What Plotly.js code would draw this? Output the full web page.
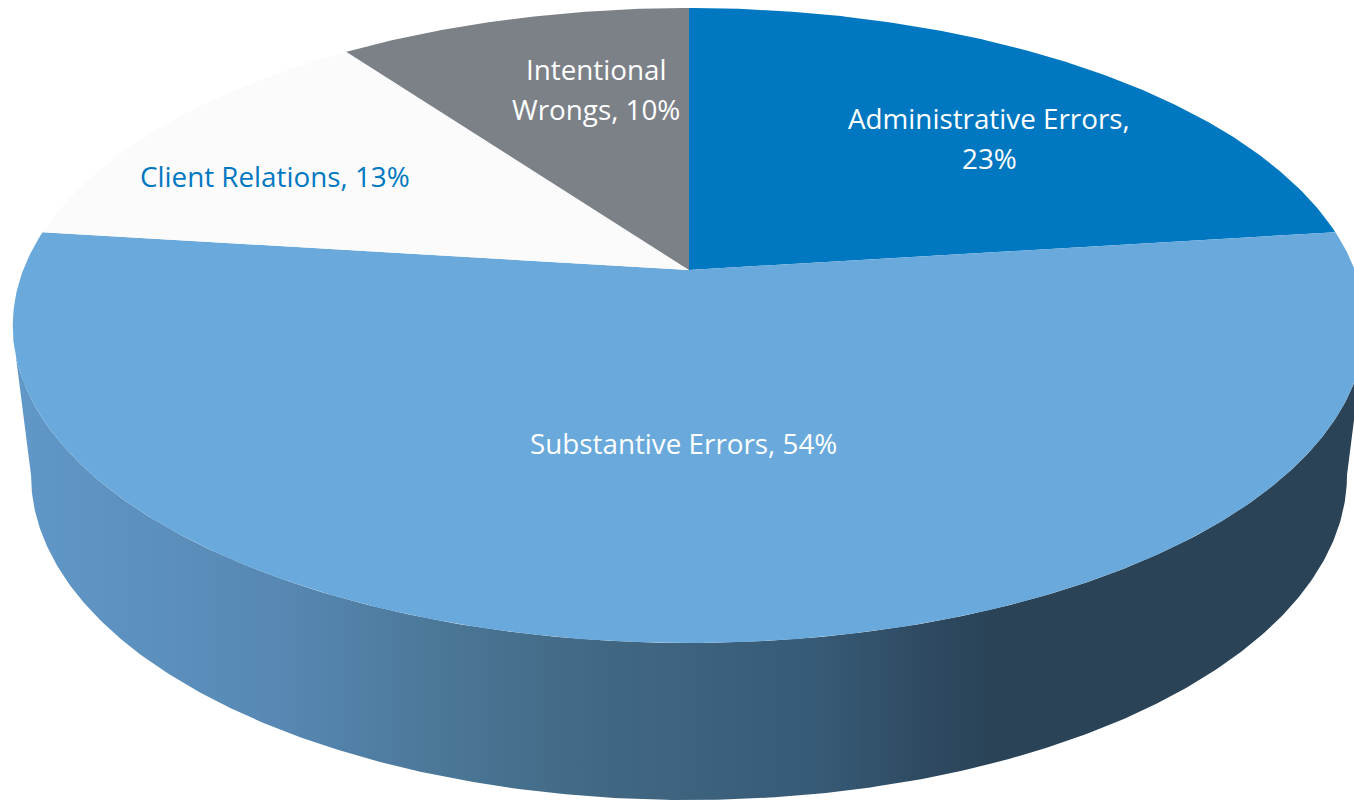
<!DOCTYPE html>
<html>
<head>
<meta charset="utf-8">
<script src="https://cdn.plot.ly/plotly-3.0.1.min.js"></script>
<style>html,body{margin:0;padding:0;background:#fff}#chart{width:1354px;height:801px}</style>
</head>
<body>
<div id="chart"></div>
<script>
// Malpractice claim causes, share of claims in percent, clockwise from twelve o'clock.
const categories = ["Administrative Errors", "Substantive Errors", "Client Relations", "Intentional Wrongs"];
const shares = [23, 54, 13, 10];

const sliceColors = ["#0078c1", "#69a9db", "#fbfbfb", "#7c8188"];
const labelColors = ["#ffffff", "#ffffff", "#0078c1", "#ffffff"];
const labelBreaks = ["Errors, ", null, null, "Intentional "];
const labelAnchors = [[989, 137.5], [683, 443], [275, 176], [596, 89]];
const labelLineGap = 40;

// Top face: a disc seen in perspective, hub at (hubX, hubY).
const hubX = 689, hubY = 270, spanX = 665.8, spanY = 307.8, tilt = 0.1748;
// Bottom rim of the drum, and where the drum's silhouette leaves the top face.
const baseY = 475, baseRx = 658, baseRy = 325, silhouetteTurn = 0.282;

function rimPoint(turn) {
  const a = turn * 2 * Math.PI, u = Math.sin(a), v = -Math.cos(a), d = 1 - tilt * v;
  return [hubX + spanX * u / d, hubY + spanY * v / d];
}

function sliceTrace(i, from, to) {
  const xs = [hubX], ys = [hubY], n = Math.max(8, Math.ceil((to - from) * 720));
  for (let k = 0; k <= n; k++) {
    const p = rimPoint(from + (to - from) * k / n);
    xs.push(p[0]); ys.push(p[1]);
  }
  xs.push(hubX); ys.push(hubY);
  return {
    type: "scatter", mode: "lines", x: xs, y: ys, fill: "toself", fillcolor: sliceColors[i],
    line: {width: 0, color: sliceColors[i]}, name: categories[i],
    text: categories[i] + ": " + shares[i] + "%", hoverinfo: "text", showlegend: false
  };
}

function sideTrace() {
  const xs = [], ys = [], steps = 360;
  // Along the upper rim's front, right to left, then along the lower rim from left to right.
  for (let k = 0; k <= steps; k++) {
    const p = rimPoint(silhouetteTurn + (1 - 2 * silhouetteTurn) * k / steps);
    xs.push(p[0]); ys.push(p[1]);
  }
  for (let k = 0; k <= steps; k++) {
    const a = Math.PI + Math.PI * k / steps;
    xs.push(hubX + baseRx * Math.cos(a));
    ys.push(baseY - baseRy * Math.sin(a));
  }
  return {
    type: "scatter", mode: "lines", x: xs, y: ys, fill: "toself",
    fillgradient: {
      type: "horizontal", start: 13, stop: 1354,
      colorscale: [[0, "#6198c8"], [0.2, "#5788b3"], [0.33, "#4a7595"], [0.44, "#416883"],
                   [0.6, "#375a76"], [0.68, "#2e4a61"], [0.73, "#2a4357"], [1, "#2a4357"]]
    },
    line: {width: 0}, hoverinfo: "skip", showlegend: false
  };
}

const total = shares.reduce((s, v) => s + v, 0);
const traces = [sideTrace()];
let run = 0;
shares.forEach((v, i) => {
  traces.push(sliceTrace(i, run / total, (run + v) / total));
  run += v;
});

// Each label line gets its own annotation so the leading can be wider than Plotly's default.
const annotations = [];
categories.forEach((c, i) => {
  let text = c + ", " + shares[i] + "%";
  if (labelBreaks[i]) text = text.replace(labelBreaks[i], labelBreaks[i].trim() + "\n");
  const lines = text.split("\n");
  lines.forEach((line, j) => {
    annotations.push({
      x: labelAnchors[i][0],
      y: labelAnchors[i][1] + (j - (lines.length - 1) / 2) * labelLineGap,
      xref: "x", yref: "y", text: line,
      showarrow: false, align: "center", xanchor: "center", yanchor: "middle",
      font: {family: "Open Sans, sans-serif", size: 27.8, color: labelColors[i]}
    });
  });
});

Plotly.newPlot("chart", traces, {
  width: 1354, height: 801,
  margin: {l: 0, r: 0, t: 0, b: 0},
  paper_bgcolor: "#ffffff", plot_bgcolor: "#ffffff",
  xaxis: {range: [0, 1354], visible: false, fixedrange: true},
  yaxis: {range: [801, 0], visible: false, fixedrange: true},
  annotations: annotations, showlegend: false
}, {displayModeBar: false});
</script>
</body>
</html>
